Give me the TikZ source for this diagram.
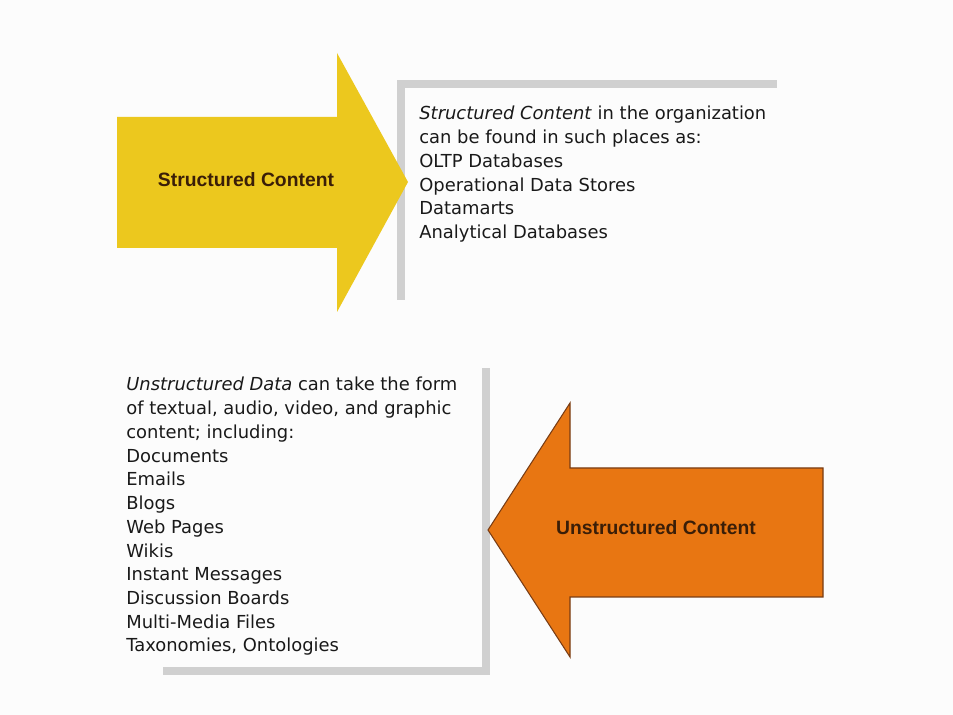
\documentclass[tikz,border=0pt]{standalone}
\usepackage{fontspec}
\setmainfont{DejaVu Sans}
\newfontfamily\arrowfont{Liberation Sans}
\definecolor{pagebg}{RGB}{252,252,252}
\definecolor{structyellow}{RGB}{236,200,30}
\definecolor{unstructorange}{RGB}{232,118,18}
\definecolor{orangeline}{RGB}{120,60,20}
\definecolor{bracketgray}{RGB}{208,208,208}
\definecolor{labelbrown}{RGB}{58,30,8}
\tikzset{
  arrowlabel/.style={font=\arrowfont\fontsize{11}{13}\selectfont\bfseries, text=labelbrown},
  listtext/.style={anchor=north west, inner sep=0pt, align=left, text=black!90,
    font=\fontsize{10.2}{13.5}\selectfont},
  bracket/.style={fill=bracketgray}
}
\begin{document}
\begin{tikzpicture}[x=0.02cm,y=-0.02cm]
            \fill[pagebg] (0,0) rectangle (953,715);
            \useasboundingbox (0,0) rectangle (953,715);

            % top: structured content
            \fill[bracket] (397,80) rectangle (405,300);
            \fill[bracket] (397,80) rectangle (777,88);
            \fill[structyellow] (117,117) -- (337,117) -- (337,53) -- (408,182) -- (337,312) -- (337,248) -- (117,248) -- cycle;
            \node (structlabel) [arrowlabel] at (246,180) {Structured Content};
            \node (structlist) [listtext] at (419,106) {\textit{Structured Content} in the organization\\can be found in such places as:\\OLTP Databases\\Operational Data Stores\\Datamarts\\Analytical Databases};

            % bottom: unstructured content
            \fill[bracket] (482,368) rectangle (490,675);
            \fill[bracket] (163,667) rectangle (490,675);
            \fill[unstructorange, draw=orangeline, line width=0.6pt] (823,468) -- (570,468) -- (570,403) -- (488,530) -- (570,657) -- (570,597) -- (823,597) -- cycle;
            \node (unstructlabel) [arrowlabel] at (656,528) {Unstructured Content};
            \node (unstructlist) [listtext] at (126,377) {\textit{Unstructured Data} can take the form\\of textual, audio, video, and graphic\\content; including:\\Documents\\Emails\\Blogs\\Web Pages\\Wikis\\Instant Messages\\Discussion Boards\\Multi-Media Files\\Taxonomies, Ontologies};
        \end{tikzpicture}
\end{document}
